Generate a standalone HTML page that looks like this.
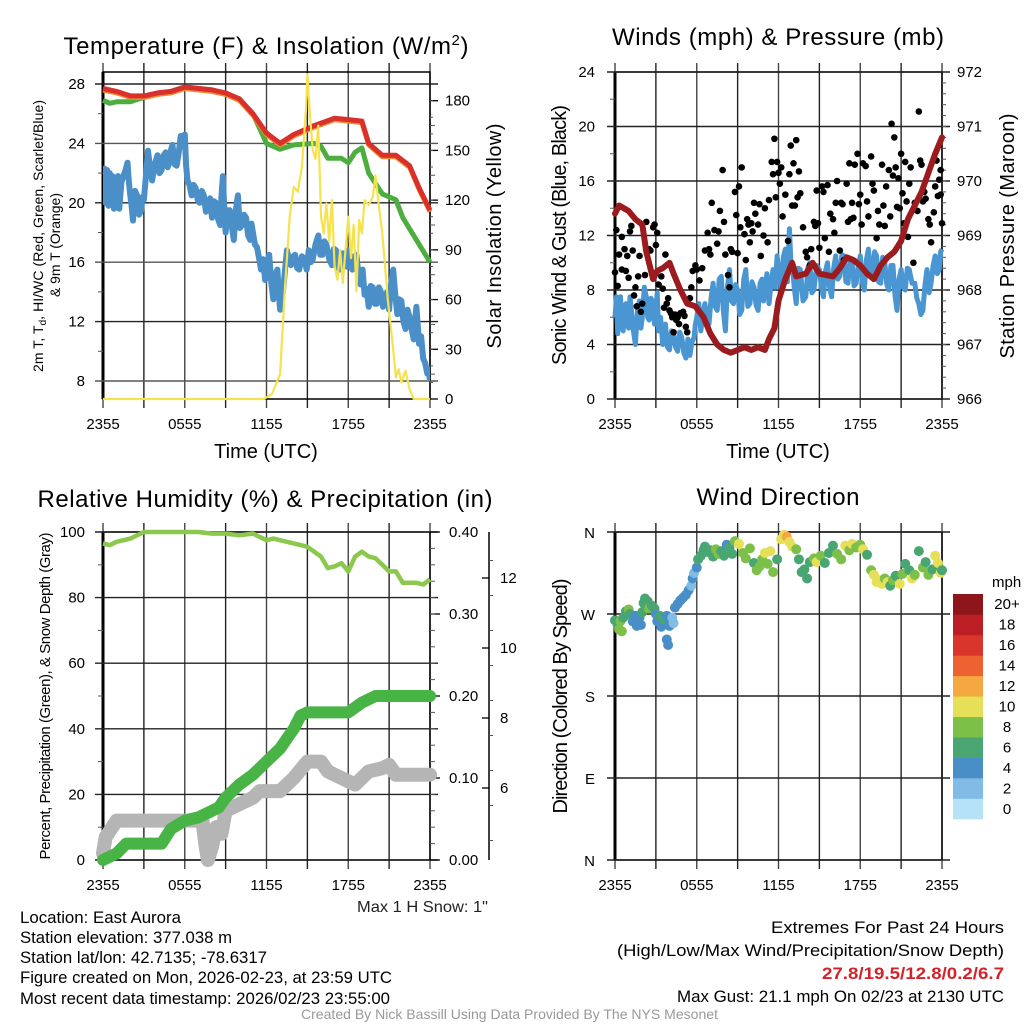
<!DOCTYPE html>
<html><head><meta charset="utf-8">
<style>
html,body{margin:0;padding:0;background:#fff;}
svg{display:block;font-family:"Liberation Sans",Arial,sans-serif;}
</style></head>
<body>
<svg id="root" width="1024" height="1024" viewBox="0 0 1024 1024" xmlns="http://www.w3.org/2000/svg">
<rect x="0" y="0" width="1024" height="1024" fill="#fff"/>
<g id="p1"></g>
<g id="p2"></g>
<g id="p3"></g>
<g id="p4"></g>

<text x="266" y="54" font-size="24" text-anchor="middle" textLength="405">Temperature (F) &amp; Insolation (W/m<tspan dy="-9" font-size="15">2</tspan><tspan dy="9">)</tspan></text>
<text x="778" y="45" font-size="24" text-anchor="middle" textLength="332">Winds (mph) &amp; Pressure (mb)</text>
<text x="265" y="507" font-size="24" text-anchor="middle" textLength="455">Relative Humidity (%) &amp; Precipitation (in)</text>
<text x="778" y="505" font-size="24" text-anchor="middle" textLength="163">Wind Direction</text>

<text x="266" y="458" font-size="20" text-anchor="middle">Time (UTC)</text>
<text x="778" y="458" font-size="20" text-anchor="middle">Time (UTC)</text>

<text transform="translate(43,236) rotate(-90)" font-size="14" text-anchor="middle" textLength="272">2m T, T<tspan font-size="10" dy="3">d</tspan><tspan dy="-3">, HI/WC (Red, Green, Scarlet/Blue)</tspan></text>
<text transform="translate(60,245) rotate(-90)" font-size="14" text-anchor="middle" textLength="104">&amp; 9m T (Orange)</text>
<text transform="translate(501,236) rotate(-90)" font-size="20" text-anchor="middle" textLength="225">Solar Insolation (Yellow)</text>
<text transform="translate(566,235) rotate(-90)" font-size="20" text-anchor="middle" textLength="260">Sonic Wind &amp; Gust (Blue, Black)</text>
<text transform="translate(1014,236) rotate(-90)" font-size="20" text-anchor="middle" textLength="245">Station Pressure (Maroon)</text>
<text transform="translate(50,696) rotate(-90)" font-size="15" text-anchor="middle" textLength="327">Percent, Precipitation (Green), &amp; Snow Depth (Gray)</text>
<text transform="translate(567,696) rotate(-90)" font-size="20" text-anchor="middle" textLength="235">Direction (Colored By Speed)</text>

<g id="legend"></g>

<g font-size="17" fill="#000" lengthAdjust="spacingAndGlyphs">
<text x="20" y="923" textLength="161" lengthAdjust="spacingAndGlyphs">Location: East Aurora</text>
<text x="20" y="943" textLength="212" lengthAdjust="spacingAndGlyphs">Station elevation: 377.038 m</text>
<text x="20" y="963" textLength="247" lengthAdjust="spacingAndGlyphs">Station lat/lon: 42.7135; -78.6317</text>
<text x="20" y="983" textLength="372" lengthAdjust="spacingAndGlyphs">Figure created on Mon, 2026-02-23, at 23:59 UTC</text>
<text x="20" y="1004" textLength="370" lengthAdjust="spacingAndGlyphs">Most recent data timestamp: 2026/02/23 23:55:00</text>
</g>
<text x="357" y="912" font-size="16" textLength="131" lengthAdjust="spacingAndGlyphs" fill="#222">Max 1 H Snow: 1"</text>
<g font-size="17" text-anchor="end">
<text x="1004" y="933" textLength="233" lengthAdjust="spacingAndGlyphs">Extremes For Past 24 Hours</text>
<text x="1004" y="956" textLength="387" lengthAdjust="spacingAndGlyphs">(High/Low/Max Wind/Precipitation/Snow Depth)</text>
<text x="1004" y="979" textLength="182" lengthAdjust="spacingAndGlyphs" font-weight="bold" fill="#d2232a">27.8/19.5/12.8/0.2/6.7</text>
<text x="1004" y="1002" textLength="327" lengthAdjust="spacingAndGlyphs">Max Gust: 21.1 mph On 02/23 at 2130 UTC</text>
</g>
<text x="301" y="1019" font-size="14" fill="#999" textLength="417" lengthAdjust="spacingAndGlyphs">Created By Nick Bassill Using Data Provided By The NYS Mesonet</text>
</svg>
<script>
// ---------- data ----------
const timeTickLabels = ["2355","0555","1155","1755","2355"];
const tempTicks = [8,12,16,20,24,28];
const insolTicks = [0,30,60,90,120,150,180];
const windTicks = [0,4,8,12,16,20,24];
const presTicks = [966,967,968,969,970,971,972];
const rhTicks = [0,20,40,60,80,100];
const precipTicks = ["0.00","0.10","0.20","0.30","0.40"];
const snowTicks = [6,8,10,12];
const dirTickLabels = ["N","E","S","W","N"];
const speedLegendLabels = ["0","2","4","6","8","10","12","14","16","18","20+"];
const speedColors = ["#b5e2f7","#80bce6","#4a8ec7","#49a673","#7cc04a","#e6df58","#f5a742","#ee6130","#d9352b","#bc1e26","#8e161a"];

const redT = [0,1,2,3,4,5,6,7,8,9,10,11,12,13,14,15.5,17,18,19,19.5,20.5,21.5,22.5,23.2,24];
const redV = [27.7,27.5,27.2,27.2,27.4,27.5,27.8,27.7,27.6,27.4,27.0,26.0,24.7,24.0,24.6,25.2,25.7,25.6,25.5,24.0,23.2,23.2,22.5,21.0,19.5];
const greenT = [0,0.5,1,2,3,4,5,6,7,8,9,10,11,11.5,12,13,14,15.5,16,16.5,17.5,18,18.5,19,19.5,20,20.5,21.5,22,23,24];
const greenV = [26.9,26.7,26.8,26.8,27.1,27.3,27.5,27.8,27.7,27.6,27.3,27.0,26.0,25.0,24.0,23.6,23.9,24.0,23.8,23.0,23.0,22.7,23.4,23.7,22.0,21.3,20.6,20.2,19.0,17.5,16.0];
const dewT = [0,.1,.2,.3,.4,.5,.6,.7,.8,.9,1,1.1,1.2,1.35,1.5,1.65,1.8,1.9,2,2.1,2.2,2.35,2.5,2.65,2.8,2.9,3,3.15,3.3,3.45,3.6,3.8,4,4.15,4.3,4.45,4.6,4.75,4.9,5,5.1,5.25,5.4,5.55,5.7,5.85,6,6.1,6.2,6.35,6.5,6.65,6.8,6.95,7.1,7.25,7.4,7.55,7.7,7.85,8,8.15,8.3,8.45,8.6,8.7,8.8,8.9,9,9.15,9.3,9.45,9.6,9.75,9.9,10.05,10.2,10.35,10.5,10.65,10.8,10.9,11,11.15,11.3,11.45,11.6,11.75,11.9,12.05,12.2,12.35,12.5,12.65,12.8,12.9,13,13.1,13.2,13.35,13.5,13.65,13.8,13.95,14.1,14.25,14.4,14.6,14.8,14.95,15.1,15.25,15.4,15.6,15.8,15.95,16.1,16.25,16.4,16.6,16.8,16.95,17.1,17.25,17.4,17.6,17.8,17.9,18,18.15,18.3,18.45,18.6,18.75,18.9,19.05,19.2,19.35,19.5,19.65,19.8,19.95,20.1,20.25,20.4,20.55,20.7,20.85,21,21.15,21.3,21.45,21.6,21.75,21.9,22.05,22.2,22.35,22.5,22.65,22.8,22.9,23,23.1,23.2,23.35,23.5,23.65,23.8,23.9,24];
const dewV = [21.3,22.3,20,22.2,19.8,22,20.5,21.8,19.6,21.5,20.7,21.8,19.6,21.4,21.8,22.2,22.7,21.4,20.5,19.8,18.8,20.8,20.5,19.2,19.5,20.4,20.2,21.8,23.5,22.4,21.5,22.6,23.2,22,22.2,23.2,23.4,22.4,22.8,23.6,23.9,22.6,22.5,23.3,24.5,23.8,24.6,22.5,21.5,21.2,20.5,21.2,21,20.2,20,20.8,20.5,19.4,19.5,20.3,19,20.1,20,18.9,18.5,20.5,21.8,19.6,18,19.5,19.5,18.4,17.5,19.5,20.5,18.3,18.5,19.2,19,17.8,17.5,18.6,18,17.2,17,16.3,15.5,16.2,14.8,15.8,16.5,14.6,13.5,15.2,15.5,13.9,12.8,13.5,14,15.4,16.8,16.2,15.8,16.4,16.5,15.6,15.5,16.4,16.2,15.5,16.8,16,16.2,17.2,17.8,16.5,16.5,17.4,17.2,16.2,15.8,16.9,16.8,15.6,15.5,16.6,16.2,15.7,16.8,16,15.5,16.4,16.5,15.2,14.5,15.5,13.8,14.2,13,14.4,14.3,13.2,13.2,14.3,14,13,13.4,14,12.8,14.6,15.5,13.8,12.5,13.5,13.4,12,11.5,12.8,12.3,11.5,10.8,12,13,11.8,10.5,11,9.5,9.2,8.5,8.8,8];
const insolT = [0,11.8,12.4,13,13.3,13.7,14,14.3,14.6,14.9,15,15.2,15.4,15.6,15.8,16,16.2,16.4,16.6,16.8,17,17.2,17.4,17.6,17.8,18,18.2,18.4,18.6,18.8,19,19.2,19.5,19.8,20,20.2,20.5,20.9,21.3,21.5,21.7,21.9,22.2,22.5,22.8,24];
const insolV = [0,0,3,15,60,110,128,125,140,175,196,170,150,145,165,110,100,118,95,120,80,72,90,70,90,110,85,105,65,108,100,120,117,122,135,120,100,60,30,13,18,10,17,6,0,0];

const windT = [0,.1,.2,.3,.4,.5,.6,.7,.8,.9,1,1.1,1.2,1.35,1.5,1.65,1.8,1.9,2,2.15,2.3,2.4,2.5,2.65,2.8,2.9,3,3.1,3.2,3.35,3.5,3.6,3.7,3.85,4,4.15,4.3,4.45,4.6,4.75,4.9,5.05,5.2,5.35,5.5,5.65,5.8,5.9,6,6.15,6.3,6.45,6.6,6.75,6.9,7.05,7.2,7.35,7.5,7.65,7.8,7.95,8.1,8.25,8.4,8.55,8.7,8.85,9,9.15,9.3,9.45,9.6,9.75,9.9,10.05,10.2,10.35,10.5,10.65,10.8,10.9,11,11.15,11.3,11.45,11.6,11.75,11.9,12.05,12.2,12.35,12.5,12.65,12.8,12.9,13,13.15,13.3,13.45,13.6,13.8,14,14.15,14.3,14.45,14.6,14.8,15,15.15,15.3,15.45,15.6,15.75,15.9,16.05,16.2,16.35,16.5,16.65,16.8,16.95,17.1,17.25,17.4,17.55,17.7,17.85,18,18.15,18.3,18.45,18.6,18.75,18.9,19.05,19.2,19.35,19.5,19.65,19.8,19.95,20.1,20.25,20.4,20.55,20.7,20.85,21,21.15,21.3,21.45,21.6,21.8,22,22.15,22.3,22.45,22.6,22.75,22.9,23.05,23.2,23.35,23.5,23.65,23.8,23.9,24];
const windV = [6,7.5,4.8,7,7.5,5.2,5,6.8,7,5.5,5.2,7.5,6.5,5,4,6.5,7.2,5.2,6,8.2,7.5,6,5.8,7.4,7,5.5,6.5,7.8,5,6,4,5.2,5.5,3.8,3.6,5,4.8,3.8,3.5,4.9,4.5,3.4,3,4.4,3.2,4.2,4.5,5.5,6,7,5,6.2,7,5.8,5.5,7.4,8.5,6.8,6.5,8.8,9,6.5,5,8.2,9.5,7.2,7,8.4,8,6.2,6.5,8.8,9.5,6.8,7,8.6,8.2,6.9,6.5,8.5,8.8,7.2,8,9.2,7,8.4,9.5,8.2,10.5,9.2,8,10.4,11,8.6,12.5,10.2,10,8.2,7,9.6,9.5,7.2,7.5,9.6,10,7.8,8,9.8,9.5,8.2,7.5,9.4,10,8.2,7.5,9.6,10.5,8.8,9,10.6,10.5,8.6,8.5,10.2,10,8.3,8.5,9.8,10.5,8.6,8,10.2,11,9.4,9,10.8,10.5,8.6,8.5,10.4,10,8.4,8,9.8,9.8,7.6,6.5,8.8,9.5,8.2,8,9.6,9.5,8.5,8.5,7.4,7,6.2,6.5,8.4,9.5,7.8,8.5,9.8,10.5,9.2,9.5,10.8,11];
const presT = [0,.3,1,1.5,2,2.3,2.8,3.1,3.5,4,4.3,4.8,5.3,5.9,6.5,7,7.5,8,8.5,9,9.5,10,10.5,11,11.3,11.7,12,12.5,13,13.3,14,14.5,15,16,16.5,17,17.5,18,18.5,19,19.5,20,20.5,21,21.5,22,22.5,23,23.5,24];
const presV = [969.4,969.55,969.45,969.3,969.2,968.7,968.2,968.35,968.4,968.5,968.3,968.0,967.75,967.7,967.5,967.2,967.0,966.9,966.85,966.9,966.95,966.9,966.95,966.9,967.1,967.3,967.8,968.2,968.5,968.25,968.3,968.5,968.3,968.25,968.4,968.6,968.55,968.45,968.3,968.2,968.45,968.6,968.7,968.9,969.3,969.55,969.8,970.15,970.5,970.8];
const gustT = [0,.1,.2,.3,.5,.5,.7,.8,.9,1,1.1,1.2,1.3,1.4,1.5,1.6,1.7,1.8,1.9,2,2.2,2.3,2.5,2.6,2.8,2.9,3,3.1,3.2,3.4,3.5,3.6,3.7,3.8,3.9,4,4.1,4.2,4.3,4.4,4.5,4.6,4.7,4.8,5,5.1,5.2,5.3,5.5,5.6,5.7,5.9,6,6.2,6.4,6.6,6.8,6.9,7,7.1,7.3,7.5,7.6,7.7,7.9,8,8.1,8.3,8.4,8.5,8.6,8.8,8.9,9.1,9,9.2,9.3,9.5,9.6,9.7,9.8,9.9,10,10.1,10.2,10.3,10.5,10.6,10.7,10.9,11,11.2,11.3,11.5,11.6,11.7,11.8,11.9,12,12.1,12.2,12.3,12.5,12.7,12.8,12.9,13,13.1,13.2,13.3,13.4,13.5,13.6,13.8,14,14.1,14.3,14.4,14.6,14.8,14.9,15,15.2,15.3,15.4,15.6,15.7,15.8,16,16.1,16.2,16.3,16.5,16.7,16.8,17,17.1,17.2,17.4,17.5,17.6,17.8,17.9,18,18.2,18.4,18.5,18.6,18.8,18.9,19,19.2,19.3,19.4,19.6,19.8,19.9,20.1,20.2,20.3,20.4,20.5,20.6,20.7,20.8,21,21.1,21.2,21.4,21.5,21.6,21.7,21.9,22,22.2,22.3,22.4,22.5,22.7,22.8,23,23.1,23.2,23.4,23.5,23.6,23.7,23.8,23.9,24,23.9,22.6,21.3,20.9,19.7,18.1,17.3,16.6,14.7];
const gustV = [9.3,12.4,8.3,10.6,11.9,9.5,11,9.4,10.5,8.9,12.3,12.7,10.9,7.6,8.2,6.8,9,10.5,6.4,7,9.1,13,11,10.9,12.6,12.8,11.3,12.2,8.4,9,8.1,6.7,10.6,7,7.4,6.5,6.3,6,4.9,6.2,5.8,6,5.5,6.3,6.4,6.1,5.3,4.9,7.4,8.2,9.4,9.8,9.5,8.7,9.6,10.9,12.2,11,10.6,14.4,12.4,11.4,12.3,13.8,16.8,13,10.6,9.1,8.2,11,10.8,15.2,13.5,15.6,10.7,12.6,17,12.1,10.2,13.2,12.8,11.5,12.9,12.3,14.4,13.6,12.8,14.3,10.5,12,14,11.5,14.6,17.4,16.5,19.1,14.8,17.4,16.6,15.8,17,13.4,15,11.6,16.5,18.6,14.2,17.3,14.2,19,14.8,16.7,15.1,12.6,10.8,10.4,9.8,11,13,15.3,12.9,11.1,15.6,15.2,11.8,15.7,10.8,13.6,13.2,12.2,14.4,16,10.9,14.3,10.2,15.8,13,17.3,14.4,13.3,17.2,18,14.3,15,17.3,17.1,14.5,13.4,17.8,15.8,15.3,11.8,13.8,12.8,17.2,12.7,15.6,16.8,13.4,20.2,16.4,19.2,17,14.1,16.2,18,15.1,12.9,14.5,11.9,15.8,17,10,14.4,13.8,21.1,17.5,17.2,15.2,14.7,13.2,12.8,11.5,13.7,15.6,17.5,14.9,16.1,15,12.9,16.8,14.5,17.4,14,14.2,12.8,13.2,14.4,12.7];

const rhT = [0,.5,1,2,3,7,8,9,10,11,12,12.5,13.5,14.5,15,15.5,16,16.5,17,17.5,18,18.5,19,19.5,20,20.5,21,21.5,22,22.5,23,23.5,24];
const rhV = [96.5,96,97,98,100,100,99.5,99.5,99,99.5,97.5,98,97,96,95.5,94,92.5,89,89.5,90.5,88,92.5,94,92.5,92,90,88,88,84.5,84.5,84.5,84,85.5];
const precipT = [0,1,1.7,4.3,5,6,7,8,8.5,9,10,11,12,13,13.5,14,14.5,15,18,19,20,24];
const precipV = [0,2,5,5,9.5,12,13,15,16,19,23,26,30,34,37,40,44,45,45,48,50,50];
const snowT = [0,.2,1,4.3,6,7.3,7.5,7.7,8,8.3,8.7,9,10,11,11.5,12,13,14,15,16,16.5,17.5,18,18.5,19,19.5,20.5,21,21.5,24];
const snowV = [2,7,12,12,12,12,5,0,4,10,8,15,17,19,21,21,21,25,30,30,27,25,24,23,25,27,28,29,26,26];

const dirT = [0,.2,.3,.4,.5,.6,.8,1,1.1,1.3,1.5,1.6,1.8,1.9,2,2.1,2.2,2.4,2.5,2.7,2.9,3,3.1,3.3,3.4,3.6,3.8,3.8,3.9,4,4.2,4.3,4.4,4.6,4.8,5,5.2,5.4,5.6,5.7,5.8,6,6.1,6.3,6.5,6.6,6.8,7,7.2,7.4,7.6,7.8,8,8.2,8.4,8.6,8.8,9.1,9.4,9.6,9.9,10.2,10.4,10.6,10.8,11,11.2,11.4,11.6,11.9,12.2,12.4,12.6,12.8,13,13.3,13.5,13.7,13.9,14.1,14.3,14.6,14.8,15.1,15.4,15.7,16,16.3,16.6,16.9,17.2,17.4,17.7,18,18.2,18.5,18.8,19,19.2,19.4,19.6,19.8,20,20.2,20.4,20.6,20.9,21.1,21.3,21.6,21.8,22,22.3,22.6,22.8,23,23.3,23.5,23.7,23.9,24];
const dirD = [263,258,253,262,251,266,273,275,270,262,268,257,266,258,272,282,287,284,276,279,276,270,262,268,256,264,268,242,236,257,266,260,277,281,285,288,291,296,301,309,315,321,330,334,340,344,338,340,333,341,336,339,334,346,343,336,350,347,337,331,342,326,318,322,330,337,325,339,316,330,352,357,355,349,344,341,330,316,319,309,327,331,327,334,326,337,345,336,330,345,340,347,343,346,341,335,318,313,305,307,303,309,305,301,307,312,303,314,325,318,309,313,339,321,327,313,319,334,326,315,318];
const dirS = [7,7,8,8,8,6,7,8,6,4,4,4,4,4,6,7,6,7,8,7,6,5,4,6,4,6,4,4,4,4,2,2,4,4,4,4,4,4,2,4,2,4,6,6,6,7,6,6,6,8,8,7,6,4,6,6,8,10,8,8,8,6,8,8,8,10,8,10,8,7,10,11,12,11,10,9,6,6,6,6,7,8,10,8,7,6,6,8,8,10,8,10,8,9,10,7,8,10,10,10,10,8,10,7,8,7,10,8,7,6,10,9,7,8,6,8,7,10,10,10,7];

// ---------- helpers ----------
const NS = "http://www.w3.org/2000/svg";
function mk(parent, tag, attrs) {
  const e = document.createElementNS(NS, tag);
  for (const k in attrs) e.setAttribute(k, attrs[k]);
  parent.appendChild(e);
  return e;
}
function txt(parent, x, y, s, size, anchor) {
  const e = mk(parent, "text", {x: x, y: y, "font-size": size, "text-anchor": anchor});
  e.textContent = s;
  return e;
}
const X0 = 103, X1 = 430;
function xT(t, off) { return off + X0 + t * (X1 - X0) / 24; }
function pathFrom(ts, vs, off, yf) {
  let d = "";
  for (let i = 0; i < ts.length; i++) d += (i ? "L" : "M") + xT(ts[i], off).toFixed(1) + "," + yf(vs[i]).toFixed(1);
  return d;
}

function frame(g, off, top, bot) {
  for (let h = 0; h <= 24; h += 3) {
    const x = xT(h, off);
    const l = mk(g, "line", {x1: x, y1: top - 9, x2: x, y2: bot + 9, stroke: (h % 6 === 0) ? "#444" : "#222", "stroke-width": 1.4});
    
    
  }
  for (let i = 0; i < timeTickLabels.length; i++) {
    const t = txt(g, xT(i * 6, off), bot + 30, timeTickLabels[i], 15, "middle");
    
    
  }
  const b = mk(g, "rect", {x: off + X0, y: top, width: X1 - X0, height: bot - top, fill: "none", stroke: "#000", "stroke-width": 1.5});
  
  
  const lb = mk(g, "line", {x1: off + X0, y1: top, x2: off + X0, y2: bot, stroke: "#000", "stroke-width": 3});
  
  
}
function hgrid(g, off, y, color) {
  const l = mk(g, "line", {x1: off + X0 - 8, y1: y, x2: off + X1 + 8, y2: y, stroke: color || "#222", "stroke-width": 1.4});
  
  
}
function minor(g, x, y, len) {
  const l = mk(g, "line", {x1: x, y1: y, x2: x + len, y2: y, stroke: "#555", "stroke-width": 1});
  
  
}

// ---------- panel 1 ----------
(function () {
  const g = document.getElementById("p1");
  const top = 72, bot = 399;
  const yT = v => 84 + (28 - v) * 297 / 20;
  const yI = v => 399 - v * 298.3 / 180;
  frame(g, 0, top, bot);
  for (const v of tempTicks) {
    hgrid(g, 0, yT(v), v % 8 === 0 ? "#555" : "#222");
    const t = txt(g, 85, yT(v) + 5, String(v), 15, "end");
    
    
  }
  for (let v = 10; v <= 26; v += 4) minor(g, X0 - 5, yT(v), 5);
  for (const v of insolTicks) {
    const tk = mk(g, "line", {x1: X1, y1: yI(v), x2: X1 + 8, y2: yI(v), stroke: "#000", "stroke-width": 1.3});
    
    
    const t = txt(g, 445, yI(v) + 5, String(v), 15, "start");
    
    
  }
  for (let v = 15; v < 190; v += 30) minor(g, X1, yI(v), 5);
  for (let v = 10; v < 190; v += 10) minor(g, X1, yI(v), 3);
  const clip = mk(g, "clipPath", {id: "c1"});
  mk(clip, "rect", {x: X0, y: top, width: X1 - X0, height: bot - top});
  const d = mk(g, "path", {d: pathFrom(dewT, dewV, 0, yT), fill: "none", stroke: "#4a8fc8", "stroke-width": 6, "stroke-linejoin": "round", "clip-path": "url(#c1)"});
  
  
  const gr = mk(g, "path", {d: pathFrom(greenT, greenV, 0, yT), fill: "none", stroke: "#4cae3f", "stroke-width": 5, "stroke-linejoin": "round"});
  
  
  const or = mk(g, "path", {d: pathFrom(redT, redV, 0, yT), fill: "none", stroke: "#f08a30", "stroke-width": 5, "stroke-linejoin": "round", transform: "translate(0,1.5)"});
  
  
  const r = mk(g, "path", {d: pathFrom(redT, redV, 0, yT), fill: "none", stroke: "#d9302b", "stroke-width": 5, "stroke-linejoin": "round"});
  
  
  const y = mk(g, "path", {d: pathFrom(insolT, insolV, 0, yI), fill: "none", stroke: "#f6e24e", "stroke-width": 2.2, "stroke-linejoin": "round"});
  
  
})();

// ---------- panel 2 ----------
(function () {
  const g = document.getElementById("p2");
  const off = 512, top = 72, bot = 399;
  const yW = v => 399 - v * 327 / 24;
  const yP = p => 399 - (p - 966) * 327 / 6;
  frame(g, off, top, bot);
  for (let i = 0; i < windTicks.length; i++) {
    hgrid(g, off, yW(windTicks[i]), "#222");
    const t = txt(g, 595, yW(windTicks[i]) + 5, String(windTicks[i]), 15, "end");
    
    
    const t2 = txt(g, 957, yP(presTicks[i]) + 5, String(presTicks[i]), 15, "start");
    
    
  }
  for (let v = 2; v < 24; v += 4) minor(g, off + X0 - 5, yW(v), 5);
  for (let p = 966.2; p < 972; p += 0.2) minor(g, off + X1, yP(p), 4);
  const b = mk(g, "path", {d: pathFrom(windT, windV, off, yW), fill: "none", stroke: "#4a96d2", "stroke-width": 5, "stroke-linejoin": "round"});
  
  
  for (let i = 0; i < gustT.length; i++) {
    const c = mk(g, "circle", {cx: xT(gustT[i], off), cy: yW(gustV[i]), r: 3.3, fill: "#000"});
    
    
  }
  const p = mk(g, "path", {d: pathFrom(presT, presV, off, yP), fill: "none", stroke: "#9b1b1e", "stroke-width": 6, "stroke-linejoin": "round", "stroke-linecap": "round"});
  
  
})();

// ---------- panel 3 ----------
(function () {
  const g = document.getElementById("p3");
  const top = 532, bot = 860;
  const yR = v => 860 - v * 328 / 100;
  const yS = v => 788 - (v - 6) * 35;
  frame(g, 0, top, bot);
  for (const v of rhTicks) {
    hgrid(g, 0, yR(v), "#222");
    const t = txt(g, 85, yR(v) + 5, String(v), 15, "end");
    
    
  }
  for (let v = 10; v < 100; v += 20) minor(g, X0 - 5, yR(v), 5);
  for (let i = 0; i < precipTicks.length; i++) {
    const yy = yR(i * 25);
    const tk = mk(g, "line", {x1: X1, y1: yy, x2: X1 + 10, y2: yy, stroke: "#000", "stroke-width": 1.3});
    
    
    const t = txt(g, 449, yy + 5, precipTicks[i], 15, "start");
    
    
  }
  for (let v = 5; v < 100; v += 5) minor(g, X1, yR(v), 5);
  const ax = mk(g, "line", {x1: 489, y1: top, x2: 489, y2: bot, stroke: "#000", "stroke-width": 1.5});
  
  
  for (const v of snowTicks) {
    const tk = mk(g, "line", {x1: 482, y1: yS(v), x2: 489, y2: yS(v), stroke: "#000", "stroke-width": 1.3});
    
    
    const t = txt(g, 500, yS(v) + 5, String(v), 15, "start");
    
    
  }
  for (let v = 4.5; v < 13.2; v += 1) minor(g, 489, yS(v), 4);
  const s = mk(g, "path", {d: pathFrom(snowT, snowV, 0, yR), fill: "none", stroke: "#b5b5b5", "stroke-width": 14, "stroke-linejoin": "round", "stroke-linecap": "round"});
  
  
  const pr = mk(g, "path", {d: pathFrom(precipT, precipV, 0, yR), fill: "none", stroke: "#48b445", "stroke-width": 12, "stroke-linejoin": "round", "stroke-linecap": "round"});
  
  
  const rh = mk(g, "path", {d: pathFrom(rhT, rhV, 0, yR), fill: "none", stroke: "#8dc84e", "stroke-width": 4.5, "stroke-linejoin": "round"});
  
  
})();

// ---------- panel 4 ----------
(function () {
  const g = document.getElementById("p4");
  const off = 512, top = 532, bot = 860;
  const yD = d => 860 - d * 328 / 360;
  frame(g, off, top, bot);
  for (let i = 0; i < dirTickLabels.length; i++) {
    hgrid(g, off, yD(i * 90), "#222");
    const t = txt(g, 595, yD(i * 90) + 6, dirTickLabels[i], 15, "end");
    
    
  }
  for (let i = 0; i < dirT.length; i++) {
    const ci = Math.min(Math.floor(dirS[i] / 2), 10);
    const c = mk(g, "circle", {cx: xT(dirT[i], off), cy: yD(dirD[i]), r: 5, fill: speedColors[ci]});
    
    
  }
  const lg = document.getElementById("legend");
  const t0 = txt(lg, 992, 587, "mph", 15, "start");
  
  
  const h = 225 / 11;
  for (let i = 0; i < 11; i++) {
    const yy = 819 - (i + 1) * h;
    const r = mk(lg, "rect", {x: 953, y: yy, width: 30, height: h + 0.3, fill: speedColors[i]});
    
    
    const t = txt(lg, 1007, yy + h / 2 + 5, speedLegendLabels[i], 15, "middle");
    
    
  }
})();
</script>
</body></html>
